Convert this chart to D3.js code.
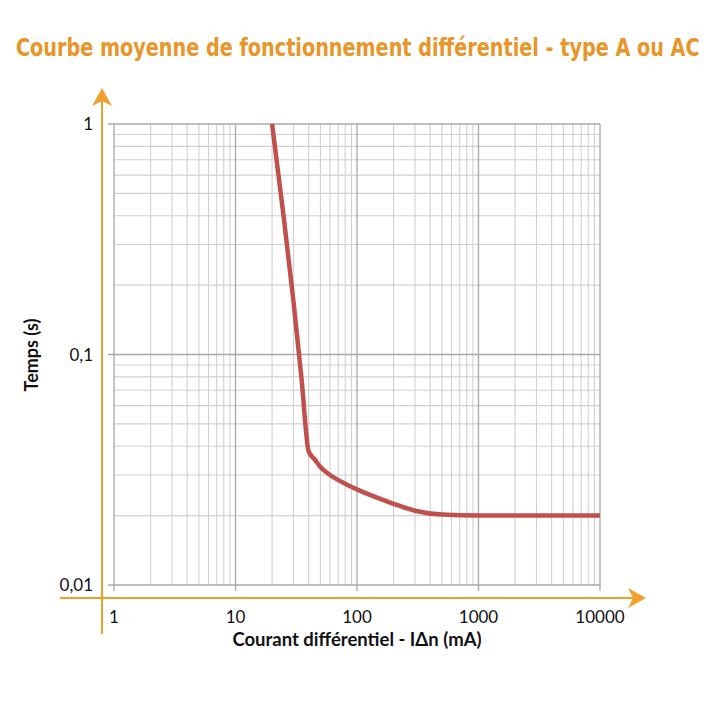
<!DOCTYPE html>
<html lang="fr">
<head>
<meta charset="UTF-8">
<title>Courbe moyenne de fonctionnement différentiel</title>
<script src="https://d3js.org/d3.v7.min.js"></script>
<style>
  html, body { margin: 0; padding: 0; background: #fff; }
  svg { display: block; }
</style>
</head>
<body>
<svg id="chart" width="720" height="720"></svg>
<script>
// Data (mA, seconds)
const courant = [20, 25, 30, 35, 40, 45, 50, 60, 80, 100, 150, 200, 300, 500, 1000, 10000];
const temps = [1, 0.39, 0.17, 0.078, 0.038, 0.035, 0.0325, 0.030, 0.0275, 0.026, 0.0238, 0.0225, 0.021, 0.0202, 0.02, 0.02];

const xTicks = [1, 10, 100, 1000, 10000];
const xTickLabels = ["1", "10", "100", "1000", "10000"];
const yTicks = [1, 0.1, 0.01];
const yTickLabels = ["1", "0,1", "0,01"];

const titre = "Courbe moyenne de fonctionnement différentiel - type A ou AC";
const titreX = "Courant différentiel - IΔn (mA)";
const titreY = "Temps (s)";

const orange = "#f0a02c";
const rouge = "#c0504d";

var svg = d3.select("#chart");

var x = d3.scaleLog().domain([1, 10000]).range([114, 600]);
var y = d3.scaleLog().domain([0.01, 1]).range([585, 124]);

// minor gridlines 2..9 per decade
function minors(lo, hi) {
  let out = [];
  for (let d = lo; d < hi; d *= 10) {
    for (let k = 2; k <= 9; k++) out.push(d * k);
  }
  return out;
}

var grid = svg.append("g");

grid.selectAll("line.vx")
  .data(minors(1, 10000))
  .enter().append("line")
    .attr("x1", d => x(d)).attr("x2", d => x(d))
    .attr("y1", y(1)).attr("y2", y(0.01))
    .attr("stroke", "#d0d0d0").attr("stroke-width", 1.1);

grid.selectAll("line.hy")
  .data(minors(0.01, 1))
  .enter().append("line")
    .attr("x1", x(1)).attr("x2", x(10000))
    .attr("y1", d => y(d)).attr("y2", d => y(d))
    .attr("stroke", "#d0d0d0").attr("stroke-width", 1.1);

// major lines, extended as tick marks
grid.selectAll("line.mx")
  .data(xTicks)
  .enter().append("line")
    .attr("x1", d => x(d)).attr("x2", d => x(d))
    .attr("y1", y(1)).attr("y2", y(0.01) + 6)
    .attr("stroke", "#a8a8a8").attr("stroke-width", 1.3);

grid.selectAll("line.my")
  .data(yTicks)
  .enter().append("line")
    .attr("x1", x(1) - 6).attr("x2", x(10000))
    .attr("y1", d => y(d)).attr("y2", d => y(d))
    .attr("stroke", "#a8a8a8").attr("stroke-width", 1.3);

// curve
var line = d3.line()
  .x((d, i) => x(courant[i]))
  .y(d => y(d))
  .curve(d3.curveMonotoneX);

svg.append("path")
  .datum(temps)
  .attr("d", line)
  .attr("fill", "none")
  .attr("stroke", rouge)
  .attr("stroke-width", 4.5)
  .attr("stroke-linejoin", "round");

// orange axes with arrows
svg.append("line")
  .attr("x1", 102).attr("x2", 102).attr("y1", 100).attr("y2", 634)
  .attr("stroke", orange).attr("stroke-width", 2);
svg.append("line")
  .attr("x1", 60).attr("x2", 634).attr("y1", 598).attr("y2", 598)
  .attr("stroke", orange).attr("stroke-width", 2);
svg.append("path")
  .attr("d", "M102,88 L92,106 L102,101 L112,106 Z")
  .attr("fill", orange);
svg.append("path")
  .attr("d", "M646,598 L628,588 L633,598 L628,608 Z")
  .attr("fill", orange);

// tick labels
svg.append("g").selectAll("text")
  .data(xTicks)
  .enter().append("text")
    .attr("x", d => x(d))
    .attr("y", 623)
    .attr("text-anchor", "middle")
    .attr("font-family", "Lato, 'Open Sans', sans-serif")
    .attr("font-size", 17)
    .attr("fill", "#111")
    .text((d, i) => xTickLabels[i]);

svg.append("g").selectAll("text")
  .data(yTicks)
  .enter().append("text")
    .attr("x", 93)
    .attr("y", d => y(d) + 6)
    .attr("text-anchor", "end")
    .attr("font-family", "Lato, 'Open Sans', sans-serif")
    .attr("font-size", 17)
    .attr("fill", "#111")
    .text((d, i) => yTickLabels[i]);

// axis titles
svg.append("text")
  .attr("x", 357).attr("y", 646)
  .attr("text-anchor", "middle")
  .attr("font-family", "Lato, 'Open Sans', sans-serif")
  .attr("font-weight", "bold")
  .attr("font-size", 18.5)
  .attr("fill", "#111")
  .text(titreX);

svg.append("text")
  .attr("transform", "translate(38,355) rotate(-90)")
  .attr("text-anchor", "middle")
  .attr("font-family", "Lato, 'Open Sans', sans-serif")
  .attr("font-weight", "bold")
  .attr("font-size", 18)
  .attr("fill", "#111")
  .text(titreY);

// title: condensed by a horizontal scale so it spans 16..700
var t = svg.append("text")
  .attr("font-family", "'DejaVu Sans Condensed', 'DejaVu Sans', sans-serif")
  .attr("font-weight", "bold")
  .attr("font-size", 24)
  .attr("fill", "#e8952a")
  .text(titre);
var sx = 684 / t.node().getComputedTextLength();
t.attr("transform", "translate(16,56) scale(" + sx + ",1)");
</script>
</body>
</html>
